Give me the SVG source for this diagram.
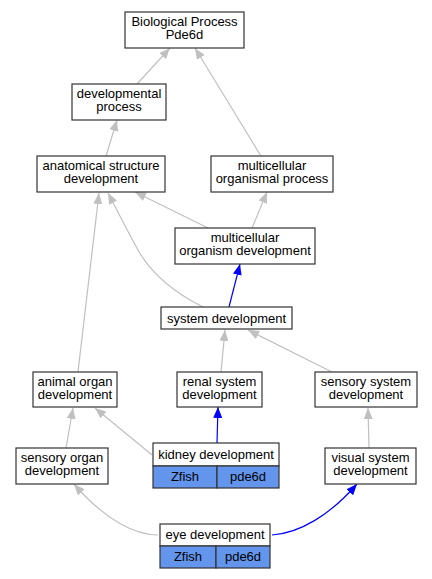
<svg xmlns="http://www.w3.org/2000/svg" width="432" height="579" viewBox="0 0 432 579">
<style>
.box{fill:#fff;stroke:#333;stroke-width:1.2}
.cell{fill:#6495ed;stroke:#333;stroke-width:1.2}
text{font-family:"Liberation Sans",Arial,sans-serif;font-size:13px;fill:#000;text-anchor:middle}
.e{fill:none;stroke:#c0c0c0;stroke-width:1.2;marker-end:url(#ag)}
.b{fill:none;stroke:#0000ff;stroke-width:1.2;marker-end:url(#ab)}
</style>
<defs>
<marker id="ag" markerUnits="userSpaceOnUse" markerWidth="11" markerHeight="9" viewBox="0 0 11 9" refX="11" refY="4.5" orient="auto"><path d="M0,0 L11,4.5 L0,9 z" fill="#c0c0c0"/></marker>
<marker id="ab" markerUnits="userSpaceOnUse" markerWidth="11" markerHeight="9" viewBox="0 0 11 9" refX="11" refY="4.5" orient="auto"><path d="M0,0 L11,4.5 L0,9 z" fill="#0000ff"/></marker>
</defs>
<rect width="432" height="579" fill="#fff"/>
<g id="connectors">
<path class="e" d="M137,84 L170,48"/>
<path class="e" d="M261,156 L195,48"/>
<path class="e" d="M106,156 L117,120"/>
<path class="e" d="M208,228 L135,192"/>
<path class="e" d="M252,228 L267,192"/>
<path class="b" d="M229,307 L240,264"/>
<path class="e" d="M203,307 C175,293 152,275 138,250 C128,232 118,212 108,193"/>
<path class="e" d="M78,372 L99,193"/>
<path class="e" d="M221,372 L225,330"/>
<path class="e" d="M332,372 L248,330"/>
<path class="b" d="M217,443 L218,407"/>
<path class="e" d="M152,455 L95,408"/>
<path class="e" d="M66,448 L73,408"/>
<path class="e" d="M369,448 L368,408"/>
<path class="e" d="M158,535 C135,535 105,520 74,484"/>
<path class="b" d="M272,535 C300,533 330,515 357,484"/>
</g>
<g id="bp"><rect class="box" x="125" y="12" width="119" height="36"/><text><tspan x="184.5" y="26">Biological Process</tspan><tspan x="184.5" y="39">Pde6d</tspan></text></g>
<g id="devproc"><rect class="box" x="72" y="84" width="94" height="36"/><text><tspan x="119" y="98">developmental</tspan><tspan x="119" y="111">process</tspan></text></g>
<g id="anat"><rect class="box" x="37" y="156" width="128" height="36"/><text><tspan x="101" y="170">anatomical structure</tspan><tspan x="101" y="183">development</tspan></text></g>
<g id="mop"><rect class="box" x="211" y="156" width="122" height="36"/><text><tspan x="272" y="170">multicellular</tspan><tspan x="272" y="183">organismal process</tspan></text></g>
<g id="mod"><rect class="box" x="175" y="228" width="140" height="36"/><text><tspan x="245" y="242">multicellular</tspan><tspan x="245" y="255">organism development</tspan></text></g>
<g id="sysdev"><rect class="box" x="161" y="307" width="131" height="22"/><text x="226.5" y="322.5">system development</text></g>
<g id="animal"><rect class="box" x="33" y="372" width="84" height="35"/><text><tspan x="75" y="386">animal organ</tspan><tspan x="75" y="399">development</tspan></text></g>
<g id="renal"><rect class="box" x="177" y="372" width="85" height="35"/><text><tspan x="219.5" y="386">renal system</tspan><tspan x="219.5" y="399">development</tspan></text></g>
<g id="sensys"><rect class="box" x="315" y="372" width="102" height="35"/><text><tspan x="366" y="386">sensory system</tspan><tspan x="366" y="399">development</tspan></text></g>
<g id="senorg"><rect class="box" x="16" y="448" width="92" height="36"/><text><tspan x="62" y="462">sensory organ</tspan><tspan x="62" y="475">development</tspan></text></g>
<g id="kidney"><rect class="box" x="153" y="443" width="126" height="23"/><text x="216" y="459">kidney development</text><rect class="cell" x="153" y="466" width="64" height="22"/><rect class="cell" x="217" y="466" width="62" height="22"/><text x="185" y="481">Zfish</text><text x="248" y="481">pde6d</text></g>
<g id="visual"><rect class="box" x="325" y="448" width="91" height="36"/><text><tspan x="370.5" y="462">visual system</tspan><tspan x="370.5" y="475">development</tspan></text></g>
<g id="eye"><rect class="box" x="160" y="524" width="110" height="22"/><text x="215" y="539">eye development</text><rect class="cell" x="160" y="546" width="56" height="22"/><rect class="cell" x="216" y="546" width="54" height="22"/><text x="188" y="561">Zfish</text><text x="243" y="561">pde6d</text></g>
</svg>
